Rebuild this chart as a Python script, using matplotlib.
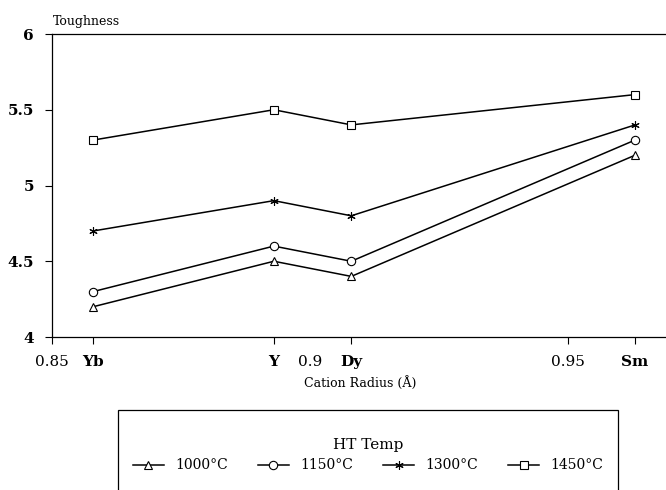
import matplotlib
matplotlib.use('Agg')
import matplotlib.pyplot as plt
from matplotlib.patches import Rectangle

plt.rcParams['font.family'] = ['DejaVu Serif']

# cation radius (A) of each rare earth
elements = ['Yb', 'Y', 'Dy', 'Sm']
radius = [0.858, 0.893, 0.908, 0.963]

temps = ['1000°C', '1150°C', '1300°C', '1450°C']
tough_1000 = [4.2, 4.5, 4.4, 5.2]
tough_1150 = [4.3, 4.6, 4.5, 5.3]
tough_1300 = [4.7, 4.9, 4.8, 5.4]
tough_1450 = [5.3, 5.5, 5.4, 5.6]

num_ticks = [0.85, 0.9, 0.95]
y_ticks = [4, 4.5, 5, 5.5, 6]
y_labels = ['4', '4.5', '5', '5.5', '6']

W, H = 666, 490
fig = plt.figure(figsize=(W / 100, H / 100), dpi=100)
ax = fig.add_axes([52 / W, 1 - 337 / H, (W - 52) / W, 303 / H])

series = [tough_1000, tough_1150, tough_1300, tough_1450]
markers = ['^', 'o', (6, 2, 0), 's']
for vals, m, lab in zip(series, markers, temps):
    ax.plot(radius, vals, color='black', lw=1.1, marker=m, markersize=6,
            markerfacecolor='white', markeredgecolor='black', markeredgewidth=0.8,
            label=lab)

ax.set_xlim(0.85, 0.85 + (W - 52) / 5160)
ax.set_ylim(4, 6)

xt = num_ticks + radius
xl = ['0.85', '0.9', '0.95'] + elements
ax.set_xticks(xt)
ax.set_xticklabels(xl, fontsize=11)
for t in ax.get_xticklabels()[3:]:
    t.set_fontweight('bold')
ax.set_yticks(y_ticks)
ax.set_yticklabels(y_labels, fontsize=11, fontweight='bold')
ax.tick_params(axis='both', direction='out', length=5, width=0.8, pad=8)
# no tick mark drawn at 0.9 in the original
ax.xaxis.get_major_ticks()[1].tick1line.set_visible(False)

ax.spines['right'].set_visible(False)
for s in ['left', 'top', 'bottom']:
    ax.spines[s].set_linewidth(0.9)

fig.text(53 / W, 1 - 21 / H, 'Toughness', fontsize=9, va='center', ha='left')
fig.text(360 / W, 1 - 383 / H, 'Cation Radius (Å)', fontsize=9, va='center', ha='center')

# legend box, cut off at the bottom of the figure
box = Rectangle((118 / W, -0.1), (618 - 118) / W, 0.1 + (1 - 410 / H),
                transform=fig.transFigure, fill=False, lw=0.9, edgecolor='black')
fig.patches.append(box)

handles, labels = ax.get_legend_handles_labels()
leg = fig.legend(handles, labels, loc='center', ncol=4, frameon=False,
                 bbox_to_anchor=(368 / W, 1 - 455 / H), title='HT Temp',
                 fontsize=10, title_fontsize=11, handlelength=2.2,
                 handletextpad=0.8, columnspacing=2.2)

fig.savefig('out.png', dpi=100)
